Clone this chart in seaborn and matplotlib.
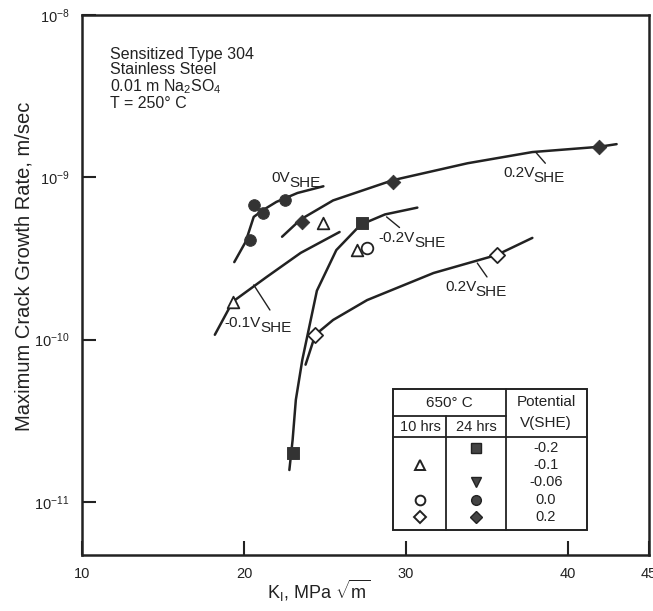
import matplotlib
matplotlib.use("Agg")
import matplotlib.pyplot as plt
import seaborn as sns

# measured points read off the chart: K_I (MPa sqrt(m)) and crack growth rate (m/s)
# 24 hrs at 650 C (filled symbols)
k_24h_m02 = [23.0, 27.3]
rate_24h_m02 = [2.0e-11, 5.2e-10]
k_24h_00 = [20.6, 21.2, 20.4, 22.5]
rate_24h_00 = [6.7e-10, 6.0e-10, 4.1e-10, 7.2e-10]
k_24h_02 = [23.6, 29.2, 41.9]
rate_24h_02 = [5.3e-10, 9.4e-10, 1.54e-9]
# 10 hrs at 650 C (open symbols)
k_10h_m01 = [24.9, 27.0, 19.3]
rate_10h_m01 = [5.2e-10, 3.56e-10, 1.71e-10]
k_10h_00 = [27.6]
rate_10h_00 = [3.66e-10]
k_10h_02 = [24.4, 35.6]
rate_10h_02 = [1.07e-10, 3.32e-10]

# hand-drawn trend curves
curve_0v_k = [19.4, 20.1, 20.6, 21.2, 22.0, 23.3, 24.9]
curve_0v_rate = [3.0e-10, 4.0e-10, 5.7e-10, 6.3e-10, 7.05e-10, 8.0e-10, 8.8e-10]
curve_02v_hi_k = [22.35, 23.5, 25.5, 29.2, 33.8, 37.8, 41.9, 43.0]
curve_02v_hi_rate = [4.3e-10, 5.5e-10, 7.2e-10, 9.6e-10, 1.22e-9, 1.43e-9, 1.54e-9, 1.6e-9]
curve_m01v_k = [18.2, 19.3, 21.4, 23.5, 25.9]
curve_m01v_rate = [1.07e-10, 1.71e-10, 2.43e-10, 3.42e-10, 4.6e-10]
curve_m02v_k = [22.8, 23.0, 23.2, 23.6, 24.5, 25.7, 27.2, 28.7, 30.7]
curve_m02v_rate = [1.57e-11, 2.4e-11, 4.25e-11, 7.5e-11, 2.0e-10, 3.56e-10, 5.1e-10, 5.9e-10, 6.5e-10]
curve_02v_lo_k = [23.8, 24.4, 25.5, 27.6, 31.7, 35.6, 37.8]
curve_02v_lo_rate = [7.0e-11, 1.07e-10, 1.32e-10, 1.75e-10, 2.57e-10, 3.32e-10, 4.23e-10]

# curve labels: main text, (k, rate) of label, leader line k pair, leader line rate pair
curve_labels = [
    ("0V", 21.7, 9.3e-10, None, None),
    ("0.2V", 36.0, 1.0e-9, [38.0, 38.6], [1.43e-9, 1.22e-9]),
    ("-0.2V", 28.3, 4.0e-10, [28.8, 29.6], [5.7e-10, 4.9e-10]),
    ("0.2V", 32.4, 2.0e-10, [34.4, 35.0], [2.96e-10, 2.43e-10]),
    ("-0.1V", 18.8, 1.2e-10, [20.6, 21.6], [2.17e-10, 1.52e-10]),
]

x_ticks = [10, 20, 30, 40, 45]
legend_potentials = ["-0.2", "-0.1", "-0.06", "0.0", "0.2"]

sns.set_style("ticks")
plt.rcParams["font.family"] = ["Liberation Sans", "DejaVu Sans"]
plt.rcParams["mathtext.fontset"] = "custom"
plt.rcParams["mathtext.rm"] = "Liberation Sans"
plt.rcParams["mathtext.it"] = "Liberation Sans:italic"
plt.rcParams["mathtext.bf"] = "Liberation Sans:bold"

fig = plt.figure(figsize=(6.53, 6.11), dpi=100)
ax = fig.add_axes([82 / 653, 56 / 611, 567 / 653, 540 / 611])

ink = "#222222"
for ck, cr in [(curve_0v_k, curve_0v_rate), (curve_02v_hi_k, curve_02v_hi_rate),
               (curve_m01v_k, curve_m01v_rate), (curve_m02v_k, curve_m02v_rate),
               (curve_02v_lo_k, curve_02v_lo_rate)]:
    sns.lineplot(x=ck, y=cr, sort=False, color=ink, lw=1.8, ax=ax)

filled = dict(color="#333333", edgecolor="#333333", s=70, zorder=5, ax=ax)
sns.scatterplot(x=k_24h_m02, y=rate_24h_m02, marker="s", **filled)
sns.scatterplot(x=k_24h_00, y=rate_24h_00, marker="o", **filled)
sns.scatterplot(x=k_24h_02, y=rate_24h_02, marker="D", **dict(filled, s=55))
hollow = dict(facecolor="white", edgecolor=ink, linewidth=1.3, s=70, zorder=5, ax=ax)
sns.scatterplot(x=k_10h_m01, y=rate_10h_m01, marker="^", **hollow)
sns.scatterplot(x=k_10h_00, y=rate_10h_00, marker="o", **hollow)
sns.scatterplot(x=k_10h_02, y=rate_10h_02, marker="D", **dict(hollow, s=60))

for txt, lk, lr, lead_k, lead_r in curve_labels:
    t = ax.text(lk, lr, txt, fontsize=11, ha="left", va="baseline", color=ink)
    ax.annotate("SHE", xy=(1, 0), xycoords=t, xytext=(-0.5, -3.5), textcoords="offset points",
                ha="left", va="bottom", fontsize=11, color=ink)
    if lead_k is not None:
        ax.plot(lead_k, lead_r, color=ink, lw=1.0)

ax.set_yscale("log")
ax.set_xlim(10, 45)
ax.set_ylim(4.7e-12, 1e-8)
ax.set_xticks(x_ticks)
ax.set_yticks([1e-11, 1e-10, 1e-9, 1e-8])
ax.yaxis.set_minor_locator(matplotlib.ticker.NullLocator())
ax.tick_params(direction="in", length=10, width=1.5, labelsize=10.5, pad=9, colors=ink)
for sp in ax.spines.values():
    sp.set_linewidth(1.8)
    sp.set_color(ink)

ax.set_ylabel("Maximum Crack Growth Rate, m/sec", fontsize=14.5, color=ink)
ax.yaxis.set_label_coords(-0.086, 0.535)
ax.set_xlabel(r"K$_\mathrm{I}$, MPa $\sqrt{\mathrm{m}}$", fontsize=13, color=ink)
ax.xaxis.set_label_coords(0.418, -0.043)

ax.text(0.05, 0.94, "Sensitized Type 304\nStainless Steel\n0.01 m Na$_2$SO$_4$\nT = 250° C",
        transform=ax.transAxes, fontsize=11.5, va="top", ha="left", color=ink, linespacing=1.0)


# legend table, drawn in pixel-like axes fractions
def fx(px):
    return (px - 82) / 567


def fy(py):
    return (555 - py) / 540


tbl = dict(transform=ax.transAxes, color=ink, lw=1.3, clip_on=False)
ax.add_patch(plt.Rectangle((fx(393), fy(530)), fx(587) - fx(393), fy(389) - fy(530),
                           fill=False, edgecolor=ink, lw=1.4, transform=ax.transAxes))
ax.plot([fx(446), fx(446)], [fy(416), fy(530)], **tbl)
ax.plot([fx(506), fx(506)], [fy(389), fy(530)], **tbl)
ax.plot([fx(393), fx(506)], [fy(416), fy(416)], **tbl)
ax.plot([fx(393), fx(587)], [fy(437), fy(437)], **tbl)
tkw = dict(transform=ax.transAxes, fontsize=11, ha="center", va="center", color=ink)
ax.text(fx(449), fy(403), "650° C", **tkw)
ax.text(fx(420), fy(427), "10 hrs", **dict(tkw, fontsize=10.5))
ax.text(fx(476), fy(427), "24 hrs", **dict(tkw, fontsize=10.5))
ax.text(fx(546), fy(402), "Potential", **tkw)
ax.text(fx(546), fy(423), "V(SHE)", **tkw)
row_y = [448, 465, 482, 500, 517]
for pot, ry in zip(legend_potentials, row_y):
    ax.text(fx(546), fy(ry), pot, **dict(tkw, fontsize=10.5))
mk = dict(transform=ax.transAxes, ms=7, color=ink, clip_on=False, ls="none")
ax.plot(fx(420), fy(row_y[1]), marker="^", mfc="white", mew=1.4, **mk)
ax.plot(fx(420), fy(row_y[3]), marker="o", mfc="white", mew=1.4, **mk)
ax.plot(fx(420), fy(row_y[4]), marker="D", mfc="white", mew=1.4, **dict(mk, ms=6))
ax.plot(fx(476), fy(row_y[0]), marker="s", mfc="#444444", **mk)
ax.plot(fx(476), fy(row_y[2]), marker="v", mfc="#444444", **mk)
ax.plot(fx(476), fy(row_y[3]), marker="o", mfc="#444444", **mk)
ax.plot(fx(476), fy(row_y[4]), marker="D", mfc="#444444", **dict(mk, ms=6))

fig.savefig("out.png", dpi=100)
